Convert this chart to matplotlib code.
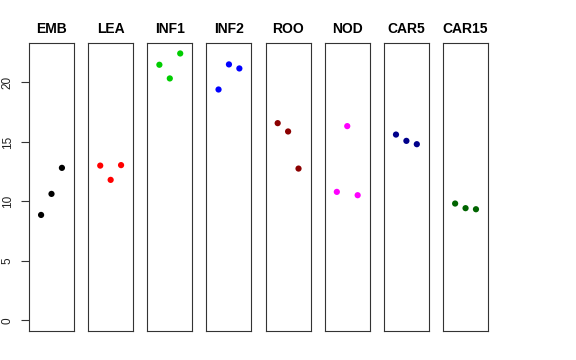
import matplotlib
matplotlib.use("Agg")
import matplotlib.pyplot as plt

plt.rcParams['font.family'] = ['Liberation Sans', 'DejaVu Sans']

tissues = ["EMB", "LEA", "INF1", "INF2", "ROO", "NOD", "CAR5", "CAR15"]
colors = ["#000000", "#FF0000", "#00CD00", "#0000FF", "#8B0000", "#FF00FF", "#00008B", "#006400"]
emb = [8.86, 10.63, 12.82]
lea = [13.01, 11.81, 13.05]
inf1 = [21.49, 20.34, 22.44]
inf2 = [19.41, 21.52, 21.18]
roo = [16.58, 15.88, 12.76]
nod = [10.80, 16.33, 10.52]
car5 = [15.62, 15.09, 14.81]
car15 = [9.82, 9.43, 9.34]
series = [emb, lea, inf1, inf2, roo, nod, car5, car15]
reps = [1, 2, 3]
yticks = [0, 5, 10, 15, 20]

W, H = 576, 360
fig = plt.figure(figsize=(W / 100, H / 100), dpi=100)

for i, (name, vals, col) in enumerate(zip(tissues, series, colors)):
    left = 29 + i * 59.15
    ax = fig.add_axes([left / W, 29 / H, 45 / W, 288 / H])
    ax.scatter(reps, vals, s=20, color=col, edgecolors='none', zorder=3)
    ax.set_xlim(-0.16, 4.16)
    ax.set_ylim(-0.9, 23.32)
    ax.set_xticks([])
    for sp in ax.spines.values():
        sp.set_linewidth(0.8)
        sp.set_color('#333333')
    ax.set_title(name, fontsize=10, fontweight='bold', pad=7)
    if i == 0:
        ax.set_yticks(yticks)
        ax.set_yticklabels([str(t) for t in yticks], rotation=90, va='center', fontsize=8.5)
        ax.tick_params(axis='y', length=5.5, width=0.8, pad=5.5, color='#333333', labelcolor='#222222')
    else:
        ax.set_yticks([])

fig.savefig("out.png", dpi=100)
